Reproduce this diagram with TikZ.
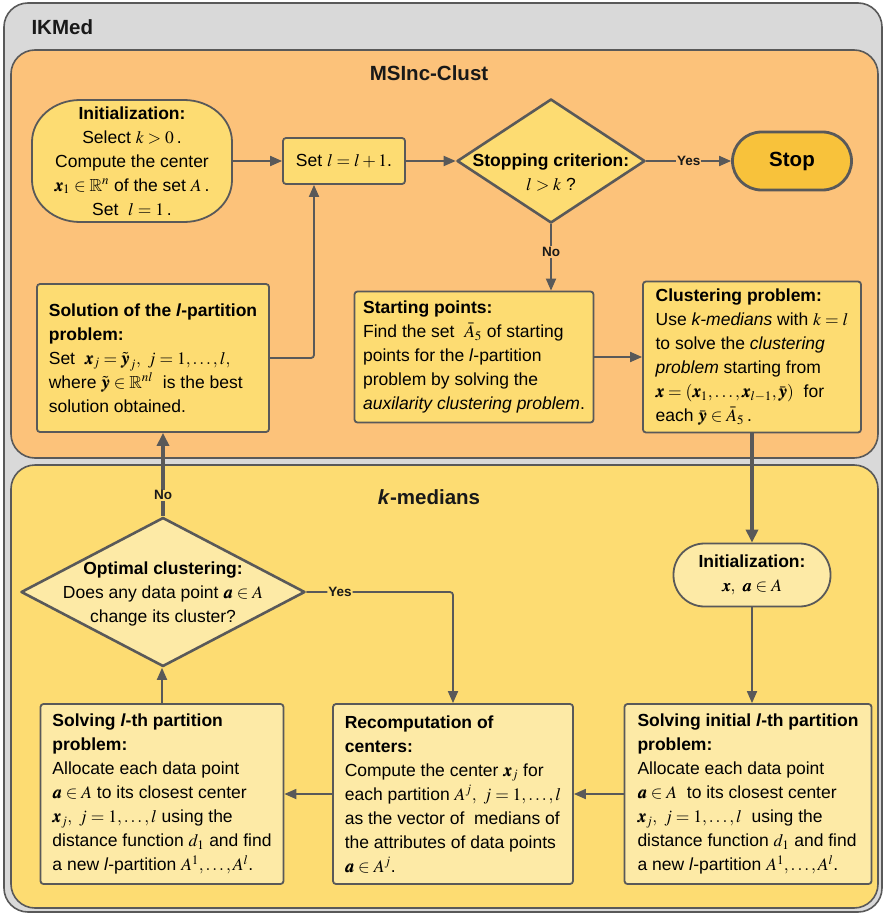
\documentclass[tikz,border=0pt]{standalone}
\usepackage{amsmath,amssymb}
\usepackage{mathptmx}
\usepackage{bm}
\usepackage[no-math]{fontspec}
\setmainfont{Liberation Sans}
\usetikzlibrary{arrows.meta,shapes.geometric}
\definecolor{bgray}{HTML}{D9D9D9}
\definecolor{dgray}{HTML}{595959}
\definecolor{orng}{HTML}{FCC27A}
\definecolor{yell}{HTML}{FDDC72}
\definecolor{lyell}{HTML}{FDEAA6}
\definecolor{stopcol}{HTML}{F8C23B}
\newcommand\bodyfnt{\fontsize{17.5}{24}\selectfont}
\newcommand\ttlfnt{\fontsize{20.5}{24}\selectfont\bfseries}
\newcommand\lblfnt{\fontsize{13.5}{14}\selectfont\bfseries}
\tikzset{
  region/.style={draw=dgray, line width=1.6pt, rounded corners=24pt},
  box/.style={draw=dgray, line width=1.8pt, rounded corners=3pt, align=left,
    inner xsep=8pt, inner ysep=2pt, font=\bodyfnt},
  termbox/.style={draw=dgray, line width=1.8pt, align=center, inner sep=1pt, font=\bodyfnt},
  termline/.style={draw=dgray, line width=1.8pt},
  dia/.style={diamond, draw=dgray, line width=2.6pt, inner sep=0pt, line join=round},
  diatext/.style={align=center, font=\bodyfnt, inner sep=0pt},
  arr/.style={draw=dgray, line width=1.8pt, -{Triangle[length=12pt,width=10pt]}},
  arrthick/.style={draw=dgray, line width=3.6pt, -{Triangle[length=13pt,width=12pt]}},
  lab/.style={font=\lblfnt, inner sep=1pt, text=black!90},
  ttl/.style={font=\ttlfnt, text=black!90}
}
\begin{document}
\begin{tikzpicture}[x=1pt,y=-1pt]
\useasboundingbox (0,0) rectangle (885,915);
% regions
\draw[region, fill=bgray] (4,3) rectangle (882,912);
\draw[region, fill=orng] (11,50) rectangle (878,458);
\draw[region, fill=yell] (11,465) rectangle (878,908);
\node[ttl, anchor=west] (tIK) at (28,27) {IKMed};
\node[ttl] (tMS) at (429,73) {MSInc-Clust};
\node[ttl] (tKM) at (429,497) {\textit{k}-medians};
% top part
\draw[termline, fill=yell] (80,100) -- (184,100)
  arc[start angle=90,end angle=0,x radius=48pt,y radius=42pt] -- (232,180)
  arc[start angle=0,end angle=-90,x radius=48pt,y radius=42pt] -- (80,222)
  arc[start angle=270,end angle=180,x radius=48pt,y radius=42pt] -- (32,142)
  arc[start angle=180,end angle=90,x radius=48pt,y radius=42pt] -- cycle;
\node[align=center, font=\bodyfnt, inner sep=0pt, minimum width=200pt, minimum height=122pt] (init1) at (132,161)
  {\textbf{Initialization:}\\ Select $k>0$\,.\\ Compute the center\\ $\bm{x}_1\in\mathbb{R}^n$ of the set $A$\,.\\ Set\ \ $l=1$\,.};
\node[box, fill=yell, align=center, minimum width=122pt, minimum height=46pt] (setl) at (344,161) {Set $l=l+1$.};
\node[dia, fill=yell, minimum width=188pt, minimum height=124pt] (stopc) at (551,161) {};
\node[diatext] (stoptxt) at (551,172) {\textbf{Stopping criterion:}\\ $l>k$ ?};
\node[termbox, fill=stopcol, line width=2.8pt, minimum width=119pt, minimum height=58pt, rounded corners=29pt] (stop) at (792,161) {\ttlfnt Stop};
\node[box, fill=yell, minimum width=232pt, minimum height=148pt] (sol) at (153,358)
  {\textbf{Solution of the \textit{l}-partition}\\ \textbf{problem:}\\ Set\ \ $\bm{x}_j=\tilde{\bm{y}}_j,\ j=1,\ldots,l,$\\ where $\tilde{\bm{y}}\in\mathbb{R}^{nl}$\ \ is the best\\ solution obtained.};
\node[box, fill=yell, minimum width=239pt, minimum height=131pt] (start) at (474,357)
  {\textbf{Starting points:}\\ Find the set\ \ $\bar{A}_5$\ of starting\\ points for the \textit{l}-partition\\ problem by solving the\\ \textit{auxilarity clustering problem}.};
\node[box, fill=yell, minimum width=218pt, minimum height=151pt] (clus) at (752,357)
  {\textbf{Clustering problem:}\\ Use \textit{k-medians} with $k=l$\\ to solve the \textit{clustering}\\ \textit{problem} starting from\\ $\bm{x}=(\bm{x}_1,\ldots,\bm{x}_{l-1},\bar{\bm{y}})$\ \ for\\ each $\bar{\bm{y}}\in\bar{A}_5$\,.};
% bottom part
\node[dia, fill=lyell, minimum width=284pt, minimum height=149pt] (opt) at (163,592) {};
\node[diatext] (opttxt) at (163,594) {\textbf{Optimal clustering:}\\ Does any data point $\bm{a}\in A$\\ change its cluster?};
\node[termbox, fill=lyell, minimum width=157pt, minimum height=63pt, rounded corners=31pt] (init2) at (752,575)
  {\textbf{Initialization:}\\ $\bm{x},\ \bm{a}\in A$};
\node[box, fill=lyell, minimum width=243pt, minimum height=180pt] (solvl) at (162,794)
  {\textbf{Solving \textit{l}-th partition}\\ \textbf{problem:}\\ Allocate each data point\\ $\bm{a}\in A$ to its closest center\\ $\bm{x}_j,\ j=1,\ldots,l$ using the\\ distance function $d_1$ and find\\ a new \textit{l}-partition $A^1,\ldots,A^l$.};
\node[box, fill=lyell, minimum width=240pt, minimum height=180pt] (recomp) at (453,794)
  {\textbf{Recomputation of}\\ \textbf{centers:}\\ Compute the center $\bm{x}_j$ for\\ each partition $A^j,\ j=1,\ldots,l$\\ as the vector of\ \ medians of\\ the attributes of data points\\ $\bm{a}\in A^j$.};
\node[box, fill=lyell, minimum width=247pt, minimum height=180pt] (solvi) at (748,794)
  {\textbf{Solving initial \textit{l}-th partition}\\ \textbf{problem:}\\ Allocate each data point\\ $\bm{a}\in A$\ \ to its closest center\\ $\bm{x}_j,\ j=1,\ldots,l$\ \ using the\\ distance function $d_1$ and find\\ a new \textit{l}-partition $A^1,\ldots,A^l$.};
% connectors
\draw[arr] (init1.east) -- (setl.west);
\draw[arr] (setl.east) -- (stopc.west);
\draw[arr] (stopc.east) -- node[lab, fill=orng] {Yes} (stop.west);
\draw[arr] (stopc.south) -- node[lab, fill=orng, pos=0.42] {No} (stopc.south |- start.north);
\draw[arr, rounded corners=3pt] (sol.east) -| ([xshift=-30pt]setl.south);
\draw[arr] (start.east) -- (clus.west);
\draw[arrthick] (clus.south) -- (clus.south |- init2.north);
\draw[arr] (init2.south) -- (init2.south |- solvi.north);
\draw[arr] (solvi.west) -- (recomp.east);
\draw[arr] (recomp.west) -- (solvl.east);
\draw[arr] (solvl.north) -- (solvl.north |- opt.south);
\draw[arr, rounded corners=3pt] (opt.east) -| node[lab, fill=yell, pos=0.115] {Yes} (recomp.north);
\draw[arrthick] (opt.north) -- node[lab, fill=yell, pos=0.25] {No} (opt.north |- sol.south);
\end{tikzpicture}
\end{document}
